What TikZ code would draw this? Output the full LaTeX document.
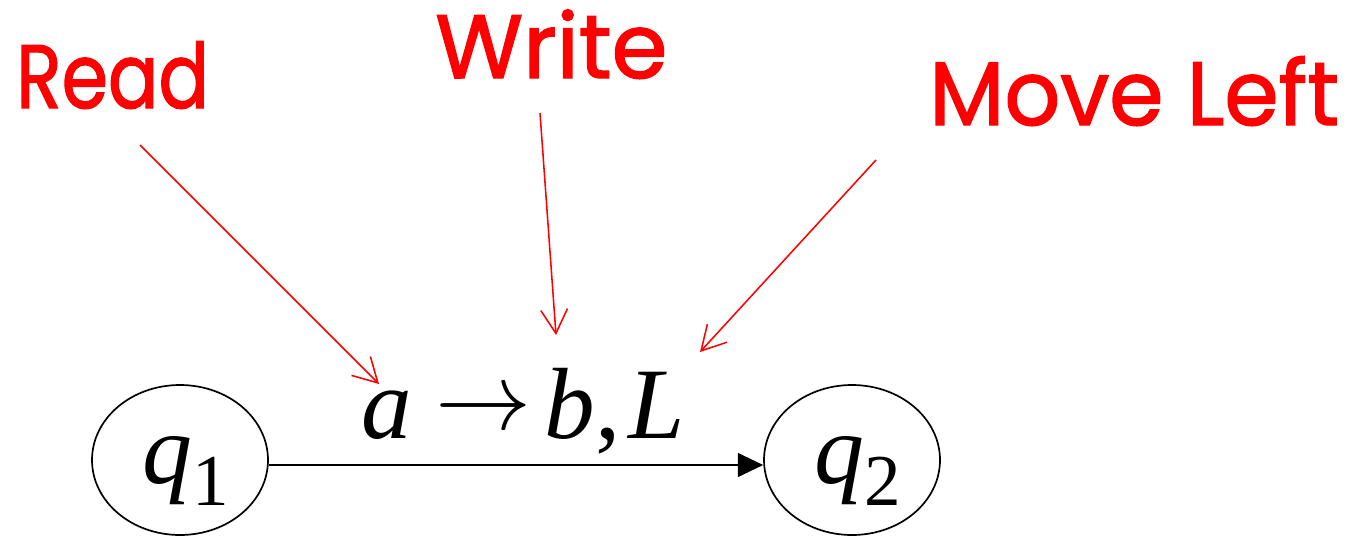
\documentclass[tikz,border=0pt]{standalone}
\usepackage{fontspec}
\setmainfont{Liberation Serif}
\newfontfamily\handfont[FakeBold=1.6]{Poppins}
\usetikzlibrary{arrows.meta,shapes.geometric,calc}
\newlength{\pxu}
\setlength{\pxu}{0.025cm}
\tikzset{
  state/.style={draw=black, line width=1.2pt, ellipse, minimum width=176\pxu, minimum height=150\pxu, inner sep=0pt},
  redlabel/.style={text=red, font=\handfont\fontsize{64}{64}\selectfont, inner sep=0pt, anchor=base west},
  pointer/.style={draw=red, line width=1.1pt, -{Straight Barb[length=17pt,width=19pt,line width=1.1pt]}},
  trans/.style={draw=black, line width=1.2pt, -{Triangle[length=18pt,width=17pt]}}
}
\begin{document}
\begin{tikzpicture}[x=0.025cm, y=-0.025cm]
\useasboundingbox (0,0) rectangle (1349,546);
\node[state] (q1) at (180,460) {};
\node[state] (q2) at (852,460) {};
\node[anchor=base, inner sep=0pt] (l1) at (186,483) {\fontsize{71}{71}\selectfont\textit{q}\raisebox{-16pt}{\fontsize{52}{52}\selectfont 1}};
\node[anchor=base, inner sep=0pt] (l2) at (858,483) {\fontsize{71}{71}\selectfont\textit{q}\raisebox{-16pt}{\fontsize{52}{52}\selectfont 2}};
\draw[trans] ($(q1.east)+(0,5)$) -- ($(q2.west)+(0,5)$);
\node[anchor=base west, inner sep=0pt] (lab) at (361,438) {\fontsize{72}{72}\selectfont\textit{a}\hspace{17pt}\raisebox{6pt}{\resizebox{96\pxu}{!}{$\rightarrow$}}\hspace{9pt}\textit{b},\hspace{6pt}\textit{L}};
\node[redlabel] (read) at (16,108) {\scalebox{0.83}[1]{Read}};
\node[redlabel] (write) at (435,78) {\scalebox{1.0}[1]{Write}};
\node[redlabel] (move) at (929,125) {\scalebox{0.97}[1]{Move Left}};
\coordinate (s1) at (140,145);
\coordinate (t1) at (379,384);
\coordinate (s2) at (540,113);
\coordinate (t2) at (556,335);
\coordinate (s3) at (876,160);
\coordinate (t3) at (700,352);
\draw[pointer] (s1) -- (t1);
\draw[pointer] (s2) -- (t2);
\draw[pointer] (s3) -- (t3);
\end{tikzpicture}
\end{document}
